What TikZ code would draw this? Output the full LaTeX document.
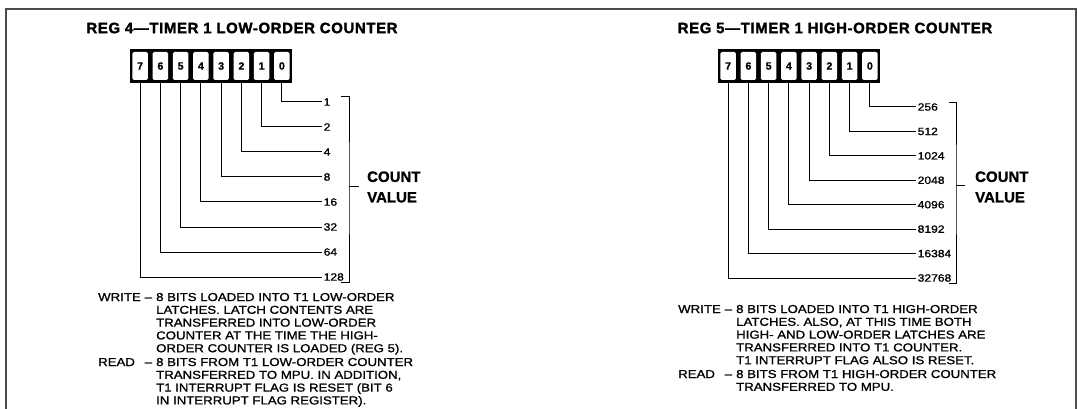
\documentclass[tikz,border=0pt]{standalone}
\usepackage{fontspec}
\setmainfont{Liberation Sans}[FakeStretch=1.15,FakeBold=1.2]
\newfontfamily\headfont{Liberation Sans Bold}[FakeBold=1.2]
\newfontfamily\titlefont{Liberation Sans Bold}[LetterSpace=4,FakeBold=1.5]
\usetikzlibrary{positioning}

\tikzset{
  frame/.style={line width=1.8pt, black!70},
  regbox/.style={fill=black, minimum width=162pt, minimum height=34pt, inner sep=0pt},
  bitcell/.style={fill=white, rounded corners=1.5pt, minimum width=15.5pt, minimum height=28pt,
    inner sep=0pt, font=\headfont\fontsize{10.5}{10.5}\selectfont},
  wire/.style={line width=1pt},
  weight/.style={anchor=west, inner sep=1.5pt, font=\fontsize{10.5}{12}\selectfont},
  heading/.style={inner sep=0pt, font=\titlefont\fontsize{15}{15}\selectfont},
  countlbl/.style={anchor=west, align=left, inner sep=0pt, font=\headfont\fontsize{15}{20.5}\selectfont},
  desc/.style={anchor=base west, inner sep=0pt, font=\fontsize{11.5}{12.8}\selectfont},
}

\begin{document}
\begin{tikzpicture}[x=1pt,y=-1pt]
  \useasboundingbox (0,0) rectangle (1077,409);
  \draw[frame] (6,411) |- (1076,9) -- (1076,411);

  % REG 4 - low-order counter
  \node[heading] (t4) at (242,28) {REG 4—TIMER 1 LOW-ORDER COUNTER};
  \node[regbox] (r4) at (211,66) {};
  \foreach \b in {0,...,7}
    \node[bitcell] (a\b) at ({281.9-20.25*\b},66) {\b};
  \foreach \b/\v in {0/1,1/2,2/4,3/8,4/16,5/32,6/64,7/128} {
    \node[weight] (wa\b) at (322,{102+25*\b}) {\v};
    \draw[wire] (a\b.south) |- (wa\b.west);
  }
  \coordinate (ka1) at (341,97);
  \coordinate (ka2) at (341,282);
  \coordinate (ka3) at (349,187);
  \coordinate (ka4) at (359,187);
  \draw[wire] (ka1) -| (ka3) |- (ka2);
  \draw[wire] (ka3) -- (ka4);
  \node[countlbl] (cv4) at (367,187) {COUNT\\VALUE};
  \node[desc] (d4) at (98,301) {\begin{tabular}[t]{@{}l@{\hspace{4pt}}l@{\hspace{4pt}}l@{}}
    WRITE & – & 8 BITS LOADED INTO T1 LOW-ORDER\\
          &   & LATCHES. LATCH CONTENTS ARE\\
          &   & TRANSFERRED INTO LOW-ORDER\\
          &   & COUNTER AT THE TIME THE HIGH-\\
          &   & ORDER COUNTER IS LOADED (REG 5).\\[1pt]
    READ  & – & 8 BITS FROM T1 LOW-ORDER COUNTER\\
          &   & TRANSFERRED TO MPU. IN ADDITION,\\
          &   & T1 INTERRUPT FLAG IS RESET (BIT 6\\
          &   & IN INTERRUPT FLAG REGISTER).
  \end{tabular}};

  % REG 5 - high-order counter
  \node[heading] (t5) at (835,28) {REG 5—TIMER 1 HIGH-ORDER COUNTER};
  \node[regbox] (r5) at (799,66) {};
  \foreach \b in {0,...,7}
    \node[bitcell] (b\b) at ({869.9-20.25*\b},66) {\b};
  \foreach \b/\v in {0/256,1/512,2/1024,3/2048,4/4096,5/8192,6/16384,7/32768} {
    \node[weight] (wb\b) at (916,{107+24.43*\b}) {\v};
    \draw[wire] (b\b.south) |- (wb\b.west);
  }
  \coordinate (kb1) at (949,103);
  \coordinate (kb2) at (949,283);
  \coordinate (kb3) at (956,186);
  \coordinate (kb4) at (965,186);
  \draw[wire] (kb1) -| (kb3) |- (kb2);
  \draw[wire] (kb3) -- (kb4);
  \node[countlbl] (cv5) at (975,187) {COUNT\\VALUE};
  \node[desc] (d5) at (678,313) {\begin{tabular}[t]{@{}l@{\hspace{4pt}}l@{\hspace{4pt}}l@{}}
    WRITE & – & 8 BITS LOADED INTO T1 HIGH-ORDER\\
          &   & LATCHES. ALSO, AT THIS TIME BOTH\\
          &   & HIGH- AND LOW-ORDER LATCHES ARE\\
          &   & TRANSFERRED INTO T1 COUNTER.\\
          &   & T1 INTERRUPT FLAG ALSO IS RESET.\\[1pt]
    READ  & – & 8 BITS FROM T1 HIGH-ORDER COUNTER\\
          &   & TRANSFERRED TO MPU.
  \end{tabular}};
\end{tikzpicture}
\end{document}
